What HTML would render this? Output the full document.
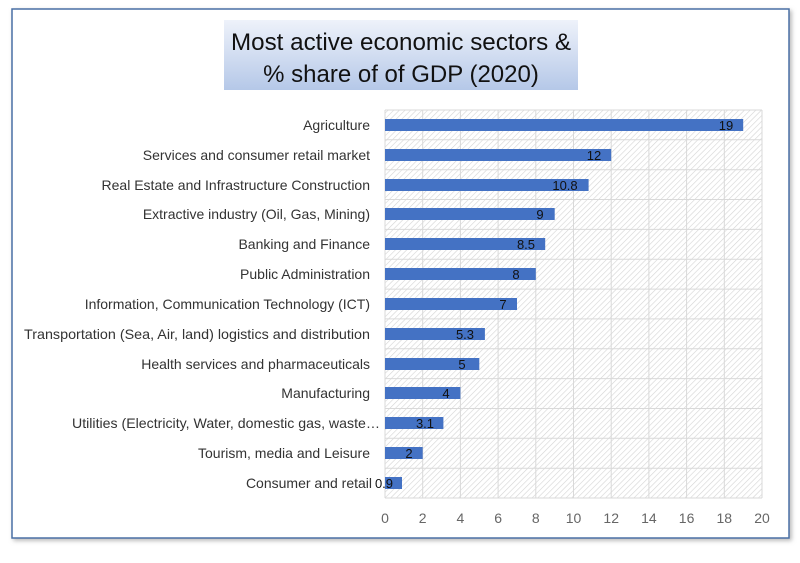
<!DOCTYPE html>
<html><head><style>
body{margin:0;background:#fff;width:800px;height:558px;overflow:hidden;font-family:"Liberation Sans",sans-serif}
</style></head><body>
<svg width="800" height="558" xmlns="http://www.w3.org/2000/svg">
<defs>
<pattern id="h" width="4" height="4" patternUnits="userSpaceOnUse" patternTransform="rotate(45)">
<rect width="4" height="4" fill="#fff"/><line x1="0" y1="0" x2="0" y2="4" stroke="#d4d4d4" stroke-width="1.2"/>
</pattern>
<linearGradient id="tg" x1="0" y1="0" x2="0" y2="1">
<stop offset="0" stop-color="#eef2fa"/><stop offset="1" stop-color="#b5c8e8"/>
</linearGradient>
<filter id="sh"><feDropShadow dx="2" dy="2" stdDeviation="2" flood-color="#888" flood-opacity="0.6"/></filter>
</defs>
<rect x="12" y="9" width="777" height="529" fill="#fff" stroke="#4a6fa5" stroke-width="1.5" filter="url(#sh)"/>
<rect x="224" y="20" width="354" height="70" fill="url(#tg)"/>
<text x="401" y="50" text-anchor="middle" font-size="24" fill="#111" textLength="340" lengthAdjust="spacingAndGlyphs">Most active economic sectors &amp;</text>
<text x="401" y="82" text-anchor="middle" font-size="24" fill="#111">% share of of GDP (2020)</text>
<rect x="385" y="110" width="377" height="388" fill="url(#h)"/>
<g stroke="#d9d9d9" stroke-width="1">
<line x1="385" y1="110" x2="762" y2="110"/>
<line x1="385" y1="139.8" x2="762" y2="139.8"/><line x1="385" y1="169.7" x2="762" y2="169.7"/>
<line x1="385" y1="199.5" x2="762" y2="199.5"/><line x1="385" y1="229.4" x2="762" y2="229.4"/>
<line x1="385" y1="259.2" x2="762" y2="259.2"/><line x1="385" y1="289.1" x2="762" y2="289.1"/>
<line x1="385" y1="318.9" x2="762" y2="318.9"/><line x1="385" y1="348.8" x2="762" y2="348.8"/>
<line x1="385" y1="378.6" x2="762" y2="378.6"/><line x1="385" y1="408.5" x2="762" y2="408.5"/>
<line x1="385" y1="438.3" x2="762" y2="438.3"/><line x1="385" y1="468.2" x2="762" y2="468.2"/>
<line x1="385" y1="498" x2="762" y2="498"/>
<line x1="385" y1="110" x2="385" y2="498"/><line x1="422.7" y1="110" x2="422.7" y2="498"/>
<line x1="460.4" y1="110" x2="460.4" y2="498"/><line x1="498.1" y1="110" x2="498.1" y2="498"/>
<line x1="535.8" y1="110" x2="535.8" y2="498"/><line x1="573.5" y1="110" x2="573.5" y2="498"/>
<line x1="611.2" y1="110" x2="611.2" y2="498"/><line x1="648.9" y1="110" x2="648.9" y2="498"/>
<line x1="686.6" y1="110" x2="686.6" y2="498"/><line x1="724.3" y1="110" x2="724.3" y2="498"/>
<line x1="762" y1="110" x2="762" y2="498"/>
</g>
<g fill="#4472c4">
<rect x="385" y="119" width="358.2" height="12"/>
<rect x="385" y="149" width="226.2" height="12"/>
<rect x="385" y="179" width="203.6" height="12"/>
<rect x="385" y="208" width="169.7" height="12"/>
<rect x="385" y="238" width="160.2" height="12"/>
<rect x="385" y="268" width="150.8" height="12"/>
<rect x="385" y="298" width="132" height="12"/>
<rect x="385" y="328" width="99.9" height="12"/>
<rect x="385" y="358" width="94.3" height="12"/>
<rect x="385" y="387" width="75.4" height="12"/>
<rect x="385" y="417" width="58.4" height="12"/>
<rect x="385" y="447" width="37.7" height="12"/>
<rect x="385" y="477" width="17" height="12"/>
</g>
<g font-size="13" fill="#111" text-anchor="middle">
<text x="726" y="130">19</text><text x="594" y="160">12</text><text x="565" y="190">10.8</text>
<text x="540" y="219">9</text><text x="526" y="249">8.5</text><text x="516" y="279">8</text>
<text x="503" y="309">7</text><text x="465" y="339">5.3</text><text x="462" y="369">5</text>
<text x="446" y="398">4</text><text x="425" y="428">3.1</text><text x="409" y="458">2</text>
<text x="384" y="488">0.9</text>
</g>
<g font-size="14" fill="#333" text-anchor="end">
<text x="370" y="130">Agriculture</text>
<text x="370" y="160">Services and consumer retail market</text>
<text x="370" y="190">Real Estate and Infrastructure Construction</text>
<text x="370" y="219">Extractive industry (Oil, Gas, Mining)</text>
<text x="370" y="249">Banking and Finance</text>
<text x="370" y="279">Public Administration</text>
<text x="370" y="309">Information, Communication Technology (ICT)</text>
<text x="370" y="339" textLength="346" lengthAdjust="spacingAndGlyphs">Transportation (Sea, Air, land) logistics and distribution</text>
<text x="370" y="369">Health services and pharmaceuticals</text>
<text x="370" y="398">Manufacturing</text>
<text x="380" y="428" textLength="308" lengthAdjust="spacingAndGlyphs">Utilities (Electricity, Water, domestic gas, waste…</text>
<text x="370" y="458">Tourism, media and Leisure</text>
<text x="372" y="488">Consumer and retail</text>
</g>
<g font-size="14" fill="#666" text-anchor="middle">
<text x="385" y="523">0</text><text x="422.7" y="523">2</text><text x="460.4" y="523">4</text>
<text x="498.1" y="523">6</text><text x="535.8" y="523">8</text><text x="573.5" y="523">10</text>
<text x="611.2" y="523">12</text><text x="648.9" y="523">14</text><text x="686.6" y="523">16</text>
<text x="724.3" y="523">18</text><text x="762" y="523">20</text>
</g>
</svg>
</body></html>
